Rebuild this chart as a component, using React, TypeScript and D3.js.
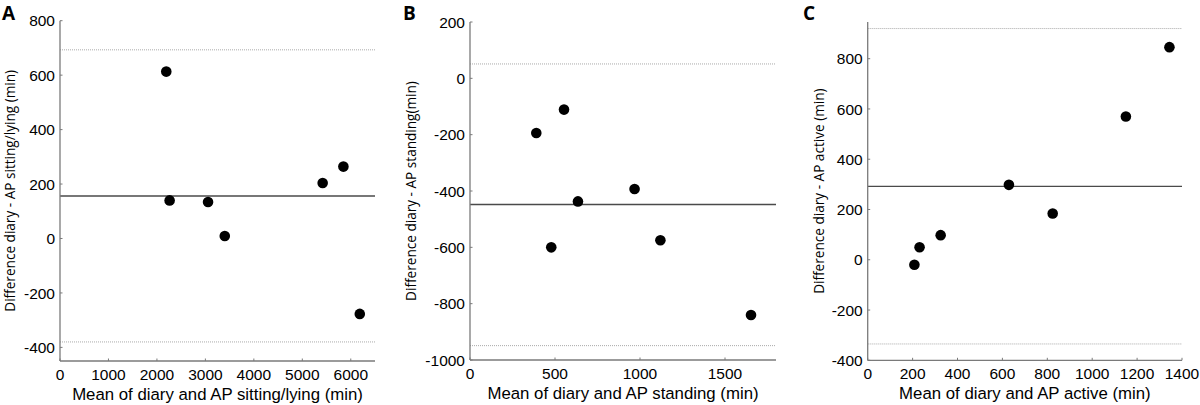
import React from "react";
import * as d3 from "d3";

// Panel A: sitting/lying
const aMeans = [2193, 2262, 3055, 3400, 5420, 5848, 6186];
const aDiffs = [613, 140, 134, 9, 204, 264, -277];
const aLines = { mean: 156, upper: 693, lower: -380 };
const aXTicks = [0, 1000, 2000, 3000, 4000, 5000, 6000];
const aYTicks = [-400, -200, 0, 200, 400, 600, 800];

// Panel B: standing
const bMeans = [390, 553, 635, 478, 968, 1120, 1653];
const bDiffs = [-194, -111, -437, -600, -393, -575, -840];
const bLines = { mean: -448, upper: 51, lower: -949 };
const bXTicks = [0, 500, 1000, 1500];
const bYTicks = [-1000, -800, -600, -400, -200, 0, 200];

// Panel C: active
const cMeans = [208, 231, 325, 629, 824, 1150, 1344];
const cDiffs = [-20, 50, 98, 298, 184, 570, 846];
const cLines = { mean: 292, upper: 920, lower: -335 };
const cXTicks = [0, 200, 400, 600, 800, 1000, 1200, 1400];
const cYTicks = [-400, -200, 0, 200, 400, 600, 800];

const TICK_FONT = "Liberation Sans, Arial, sans-serif";
const YLAB_FONT = "Open Sans, DejaVu Sans, sans-serif";

type PanelProps = {
  letter: string;
  left: number;
  right: number;
  top: number;
  bottom: number;
  xDomain: [number, number];
  yDomain: [number, number];
  xTicks: number[];
  yTicks: number[];
  means: number[];
  diffs: number[];
  lines: { mean: number; upper: number; lower: number };
  xLabel: string;
  yLabel: string;
  letterX: number;
  yLabelX: number;
};

function Panel(p: PanelProps) {
  const x = d3.scaleLinear().domain(p.xDomain).range([p.left, p.right]);
  const y = d3.scaleLinear().domain(p.yDomain).range([p.bottom, p.top]);
  const axisColor = "#7a7a7a";
  const midY = (p.top + p.bottom) / 2;
  const midX = (p.left + p.right) / 2;
  return (
    <g>
      <text x={p.letterX} y={20} fontFamily={YLAB_FONT} fontWeight="bold" fontSize={19} fill="#000">
        {p.letter}
      </text>
      {/* reference lines */}
      <line x1={p.left} x2={p.right} y1={y(p.lines.upper)} y2={y(p.lines.upper)} stroke="#aaaaaa" strokeWidth={1} strokeDasharray="1,1" />
      <line x1={p.left} x2={p.right} y1={y(p.lines.lower)} y2={y(p.lines.lower)} stroke="#aaaaaa" strokeWidth={1} strokeDasharray="1,1" />
      <line x1={p.left} x2={p.right} y1={y(p.lines.mean)} y2={y(p.lines.mean)} stroke="#4a4a4a" strokeWidth={1.4} />
      {/* axes */}
      <line x1={p.left} x2={p.left} y1={p.top} y2={p.bottom} stroke={axisColor} strokeWidth={1.3} />
      <line x1={p.left} x2={p.right} y1={p.bottom} y2={p.bottom} stroke={axisColor} strokeWidth={1.3} />
      {p.yTicks.map((t) => (
        <g key={"y" + t}>
          <line x1={p.left} x2={p.left + 2.5} y1={y(t)} y2={y(t)} stroke={axisColor} strokeWidth={1} />
          <text x={p.left - 5} y={y(t)} dy="0.36em" textAnchor="end" fontFamily={TICK_FONT} fontSize={15.5} fill="#000">
            {t}
          </text>
        </g>
      ))}
      {p.xTicks.map((t) => (
        <g key={"x" + t}>
          <line x1={x(t)} x2={x(t)} y1={p.bottom} y2={p.bottom - 2.5} stroke={axisColor} strokeWidth={1} />
          <text x={x(t)} y={p.bottom + 19} textAnchor="middle" fontFamily={TICK_FONT} fontSize={15.5} fill="#000">
            {t}
          </text>
        </g>
      ))}
      <text x={midX} y={p.bottom + 39} textAnchor="middle" fontFamily={TICK_FONT} fontSize={16.8} fill="#000">
        {p.xLabel}
      </text>
      <text
        transform={`translate(${p.yLabelX},${midY}) rotate(-90)`}
        textAnchor="middle"
        fontFamily={YLAB_FONT}
        fontSize={13.6}
        fill="#000"
      >
        {p.yLabel}
      </text>
      {p.means.map((m, i) => (
        <circle key={i} cx={x(m)} cy={y(p.diffs[i])} r={5.3} fill="#000" />
      ))}
    </g>
  );
}

export default function App() {
  return (
    <svg width={1200} height={405} style={{ position: "absolute", left: 0, top: 0, background: "#fff" }}>
      <rect width={1200} height={405} fill="#fff" />
      <Panel
        letter="A"
        left={60}
        right={375}
        top={20.7}
        bottom={361}
        xDomain={[0, 6500]}
        yDomain={[-450, 800]}
        xTicks={aXTicks}
        yTicks={aYTicks}
        means={aMeans}
        diffs={aDiffs}
        lines={aLines}
        xLabel="Mean of diary and AP sitting/lying (min)"
        yLabel="Difference diary - AP sitting/lying (min)"
        letterX={2}
        yLabelX={15}
      />
      <Panel
        letter="B"
        left={470}
        right={776}
        top={22}
        bottom={360}
        xDomain={[0, 1800]}
        yDomain={[-1000, 200]}
        xTicks={bXTicks}
        yTicks={bYTicks}
        means={bMeans}
        diffs={bDiffs}
        lines={bLines}
        xLabel="Mean of diary and AP standing (min)"
        yLabel="Difference diary - AP standing(min)"
        letterX={403}
        yLabelX={416}
      />
      <Panel
        letter="C"
        left={867.7}
        right={1182}
        top={22}
        bottom={360.3}
        xDomain={[0, 1400]}
        yDomain={[-400, 946]}
        xTicks={cXTicks}
        yTicks={cYTicks}
        means={cMeans}
        diffs={cDiffs}
        lines={cLines}
        xLabel="Mean of diary and AP active (min)"
        yLabel="Difference diary - AP active (min)"
        letterX={803}
        yLabelX={824}
      />
    </svg>
  );
}
